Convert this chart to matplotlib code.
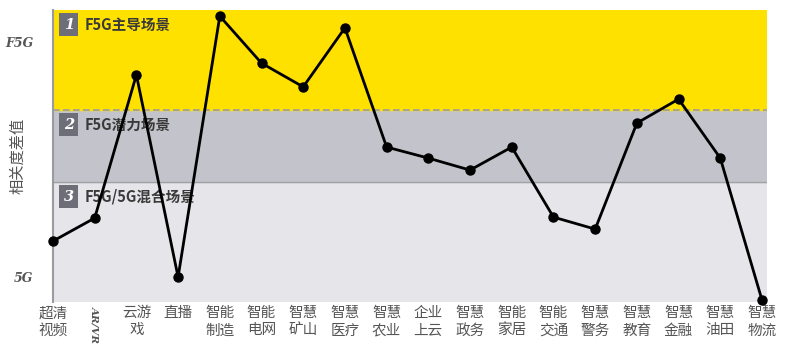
import matplotlib.pyplot as plt
import numpy as np

plt.rcParams['font.family'] = ['Noto Sans CJK SC', 'DejaVu Sans']

# Data
categories = ["超清\n视频", "AR/VR", "云游\n戏", "直播", "智能\n制造", "智能\n电网", "智慧\n矿山",
              "智慧\n医疗", "智慧\n农业", "企业\n上云", "智慧\n政务", "智能\n家居", "智能\n交通",
              "智慧\n警务", "智慧\n教育", "智慧\n金融", "智慧\n油田", "智慧\n物流"]
values = [1.53, 2.51, 8.6, 0.0, 11.1, 9.1, 8.09, 10.6, 5.53, 5.06, 4.55, 5.53, 2.55,
          2.04, 6.55, 7.57, 5.06, -0.98]
band_edges = [-1.06, 4.04, 7.11, 11.36]
band_names = ["F5G/5G混合场景", "F5G潜力场景", "F5G主导场景"]
band_nums = ["3", "2", "1"]
band_colors = ["#E6E6EA", "#C3C3CB", "#FFE100"]

fig = plt.figure(figsize=(7.87, 3.49), dpi=100)
ax = fig.add_axes([0.0673, 0.1347, 0.9073, 0.8366])

x = np.arange(len(values))
xmax = 17.12

# Background bands
for i in range(3):
    ax.axhspan(band_edges[i], band_edges[i + 1], color=band_colors[i], zorder=0)
ax.axhline(band_edges[2], color="#9A9AA0", linestyle=(0, (4, 2)), linewidth=1.2, zorder=1)
ax.axhline(band_edges[1], color="#A0A0A6", linewidth=1.0, zorder=1)

# Band labels
for i in range(3):
    top = band_edges[i + 1]
    ax.annotate(band_nums[i], xy=(0, top), xycoords="data", xytext=(11.5, -10.5),
                textcoords="offset points", ha="center", va="center", color="white",
                fontsize=10.5, fontstyle="italic", fontweight="bold", family=["DejaVu Serif"],
                bbox=dict(boxstyle="square,pad=0.3", facecolor="#6E6E78", edgecolor="none"),
                zorder=3)
    ax.annotate(band_names[i], xy=(0, top), xycoords="data", xytext=(23, -10.5),
                textcoords="offset points", ha="left", va="center", color="#3A3A3A",
                fontsize=10.5, fontweight="bold", zorder=3)

# Line
ax.plot(x, values, color="black", linewidth=2, marker="o", markersize=6.5, zorder=4,
        clip_on=False)

ax.set_xlim(0, xmax)
ax.set_ylim(band_edges[0], band_edges[-1])

# Axes styling
for s in ["top", "right", "bottom"]:
    ax.spines[s].set_visible(False)
ax.spines["left"].set_color("#9A9AA0")
ax.spines["left"].set_linewidth(1.5)

ax.set_yticks([0, 10])
ax.set_yticklabels(["5G", "F5G"], family=["DejaVu Serif"], fontstyle="italic",
                   fontweight="bold", fontsize=9, color="#555555")
ax.tick_params(axis="y", length=0, pad=14)

ax.set_xticks(x)
ax.set_xticklabels(categories, fontsize=10.5, color="#555555", linespacing=1.3, va="top")
ax.tick_params(axis="x", length=0, pad=3)
lab = ax.get_xticklabels()[1]
lab.set_rotation(-90)
lab.set_family(["DejaVu Serif"])
lab.set_fontstyle("italic")
lab.set_fontweight("bold")
lab.set_fontsize(7.5)

ax.set_ylabel("相关度差值", fontsize=11, color="#555555", labelpad=2)
ax.yaxis.set_label_coords(-0.037, 0.5)

plt.savefig("out.png", dpi=100)
